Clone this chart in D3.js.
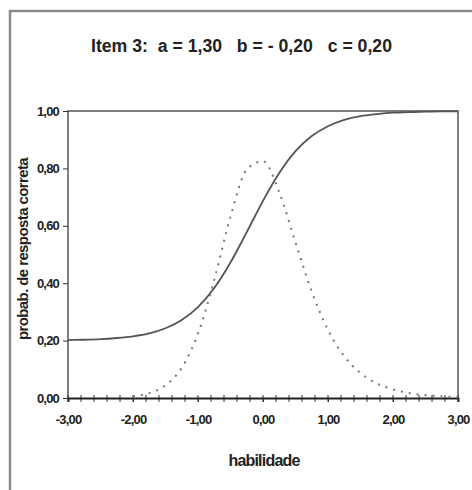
<!DOCTYPE html>
<html>
<head>
<meta charset="utf-8">
<script src="https://cdn.jsdelivr.net/npm/d3@7"></script>
<style>
  body { margin: 0; background: #fff; }
  text { font-family: 'Liberation Sans', Arial, sans-serif; font-weight: bold; fill: #222; }
</style>
</head>
<body>
<div id="chart-area"></div>
<script>
// habilidade (theta) grid
var theta = [-3.00, -2.75, -2.50, -2.25, -2.00, -1.75, -1.50, -1.25, -1.00, -0.75, -0.50, -0.25,
             0.00, 0.25, 0.50, 0.75, 1.00, 1.25, 1.50, 1.75, 2.00, 2.25, 2.50, 2.75, 3.00]

// solid curve: probab. de resposta correta
var prob = [0.202, 0.203, 0.205, 0.209, 0.215, 0.225, 0.243, 0.272, 0.317, 0.383, 0.472, 0.578,
            0.687, 0.784, 0.860, 0.913, 0.947, 0.969, 0.982, 0.989, 0.994, 0.996, 0.998, 0.999, 0.999]

// dotted curve (information), drawn from -2,00 on
var info = [null, null, null, null, 0.006, 0.017, 0.044, 0.105, 0.224, 0.412, 0.632, 0.796,
            0.825, 0.717, 0.542, 0.371, 0.237, 0.145, 0.087, 0.051, 0.030, 0.017, 0.010, 0.006, 0.003]

var xTicks = [-3, -2, -1, 0, 1, 2, 3]
var yTicks = [0, 0.2, 0.4, 0.6, 0.8, 1.0]

var fmt = d => d3.format('.2f')(d).replace('.', ',').replace('−', '-')

var svg = d3.select('#chart-area')
  .append('svg')
    .attr('width', 472)
    .attr('height', 490)

// outer frame (left and top edges visible)
svg.append('path')
  .attr('d', 'M10,490 L10,11 L472,11')
  .attr('fill', 'none')
  .attr('stroke', '#8a8a8a')
  .attr('stroke-width', 2.5)

var margin = { left: 68, top: 111 }
var width = 390, height = 287

var g = svg.append('g')
  .attr('transform', 'translate(' + margin.left + ',' + margin.top + ')')

var x = d3.scaleLinear().domain([-3, 3]).range([0, width])
var y = d3.scaleLinear().domain([0, 1]).range([height, 0])

// title
svg.append('text')
  .attr('x', 91)
  .attr('y', 52)
  .attr('font-size', '18px')
  .attr('textLength', 301)
  .attr('lengthAdjust', 'spacingAndGlyphs')
  .attr('xml:space', 'preserve')
  .text('Item 3:  a = 1,30   b = - 0,20   c = 0,20')

// plot box: left, top, right
g.append('path')
  .attr('d', 'M0,' + height + ' L0,0 L' + width + ',0 L' + width + ',' + height)
  .attr('fill', 'none')
  .attr('stroke', '#555')
  .attr('stroke-width', 1.5)

// y axis
var yAxis = d3.axisLeft(y)
  .tickValues(yTicks)
  .tickFormat(fmt)
  .tickSize(5)
  .tickPadding(4)
var ya = g.append('g').call(yAxis)
ya.select('.domain').remove()
ya.selectAll('line').attr('stroke', '#333')
ya.selectAll('text')
  .attr('font-size', '13px')
  .attr('font-family', "'Liberation Sans', Arial, sans-serif")
  .attr('font-weight', 'bold')
  .attr('letter-spacing', '-0.8px')
  .attr('fill', '#222')

// x axis minor ticks (crossing)
var minor = d3.range(-3, 3.001, 0.2)
g.selectAll('.minor')
  .data(minor)
  .enter()
  .append('line')
    .attr('class', 'minor')
    .attr('x1', d => x(d))
    .attr('x2', d => x(d))
    .attr('y1', height - 3)
    .attr('y2', height + 4)
    .attr('stroke', '#333')
    .attr('stroke-width', 1)

var xAxis = d3.axisBottom(x)
  .tickValues(xTicks)
  .tickFormat(fmt)
  .tickSize(4)
  .tickPadding(13)
var xa = g.append('g')
  .attr('transform', 'translate(0,' + height + ')')
  .call(xAxis)
xa.select('.domain').attr('stroke', '#222').attr('stroke-width', 2)
xa.selectAll('line').attr('stroke', '#333')
xa.selectAll('text')
  .attr('font-size', '13px')
  .attr('font-family', "'Liberation Sans', Arial, sans-serif")
  .attr('font-weight', 'bold')
  .attr('letter-spacing', '-0.8px')
  .attr('fill', '#222')

// axis titles
svg.append('text')
  .attr('x', 264)
  .attr('y', 466)
  .attr('font-size', '16px')
  .attr('text-anchor', 'middle')
  .attr('letter-spacing', '-0.8px')
  .text('habilidade')

svg.append('text')
  .attr('transform', 'translate(28,249) rotate(-90)')
  .attr('font-size', '15px')
  .attr('text-anchor', 'middle')
  .attr('letter-spacing', '-0.6px')
  .text('probab. de resposta correta')

// curves
var line = d3.line()
  .defined(d => d[1] != null)
  .x(d => x(d[0]))
  .y(d => y(d[1]))
  .curve(d3.curveMonotoneX)

g.append('path')
  .datum(theta.map((t, i) => [t, info[i]]))
  .attr('d', line)
  .attr('fill', 'none')
  .attr('stroke', '#777')
  .attr('stroke-width', 2)
  .attr('stroke-dasharray', '2,6')

g.append('path')
  .datum(theta.map((t, i) => [t, prob[i]]))
  .attr('d', line)
  .attr('fill', 'none')
  .attr('stroke', '#555')
  .attr('stroke-width', 1.8)
</script>
</body>
</html>
